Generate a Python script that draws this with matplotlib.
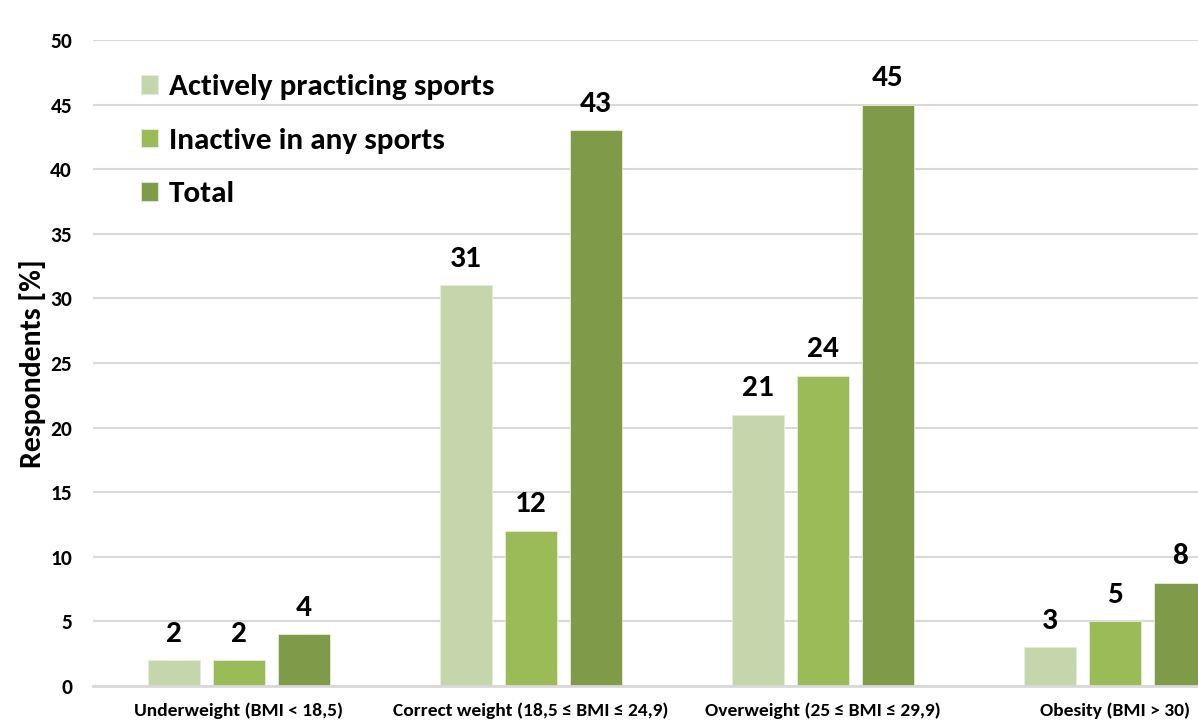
import matplotlib
matplotlib.use("Agg")
import matplotlib.pyplot as plt
import numpy as np

categories = ["Underweight (BMI < 18,5)", "Correct weight (18,5 \u2264 BMI \u2264 24,9)",
              "Overweight (25 \u2264 BMI \u2264 29,9)", "Obesity (BMI > 30)"]
series_names = ["Actively practicing sports", "Inactive in any sports", "Total"]
active = [2, 31, 21, 3]
inactive = [2, 12, 24, 5]
total = [4, 43, 45, 8]
colors = ["#C6D6AC", "#9BBB59", "#7F9B4A"]

FONT = ["Carlito", "DejaVu Sans"]

W, H = 1198, 722
fig = plt.figure(figsize=(W / 100, H / 100), dpi=100)
# plot area runs past the right edge of the canvas
left, right, bottom, top = 93, 1261, 686, 40
ax = fig.add_axes([left / W, 1 - bottom / H, (right - left) / W, (bottom - top) / H])

x = np.arange(len(categories))
bw = 0.175
step = 0.2226
for i, (vals, c, name) in enumerate(zip([active, inactive, total], colors, series_names)):
    xs = x + (i - 1) * step
    ax.bar(xs, vals, width=bw, color=c, label=name, zorder=3,
           edgecolor="#e6eedb", linewidth=0.6)
    for xi, v in zip(xs, vals):
        ax.text(xi, v + 1.05, f"{v}", ha="center", va="bottom",
                fontsize=22.5, fontweight="bold", family=FONT,
                color="black", zorder=4)

ax.set_xlim(-0.5, 3.5)
ax.set_ylim(0, 50)
ax.set_yticks(range(0, 51, 5))
ax.yaxis.grid(True, color="#d9d9d9", linewidth=1.5, zorder=0)
ax.set_axisbelow(True)
for s in ["top", "right", "left"]:
    ax.spines[s].set_visible(False)
ax.spines["bottom"].set_color("#d9d9d9")
ax.spines["bottom"].set_linewidth(2)
ax.spines["bottom"].set_zorder(5)
ax.tick_params(axis="both", length=0)
ax.tick_params(axis="y", pad=15)
ax.tick_params(axis="x", pad=12)
ax.set_xticks(x)
ax.set_xticklabels(categories, fontsize=14, fontweight="bold", family=FONT)
ax.set_yticklabels([str(v) for v in range(0, 51, 5)], fontsize=15.5,
                   fontweight="bold", family=FONT)

fig.text(33 / W, 1 - 364 / H, "Respondents [%]", rotation=90, ha="center", va="center",
         fontsize=21.5, fontweight="bold", family=FONT)

leg = ax.legend(loc="upper left",
                bbox_to_anchor=((128 - left) / (right - left), 1 - (62 - top) / (bottom - top)),
                frameon=False, prop={"family": FONT, "weight": "bold", "size": 22.5},
                handlelength=0.55, handleheight=0.55, handletextpad=0.35,
                labelspacing=0.88, borderaxespad=0)

fig.savefig("out.png", dpi=100, facecolor="white")
